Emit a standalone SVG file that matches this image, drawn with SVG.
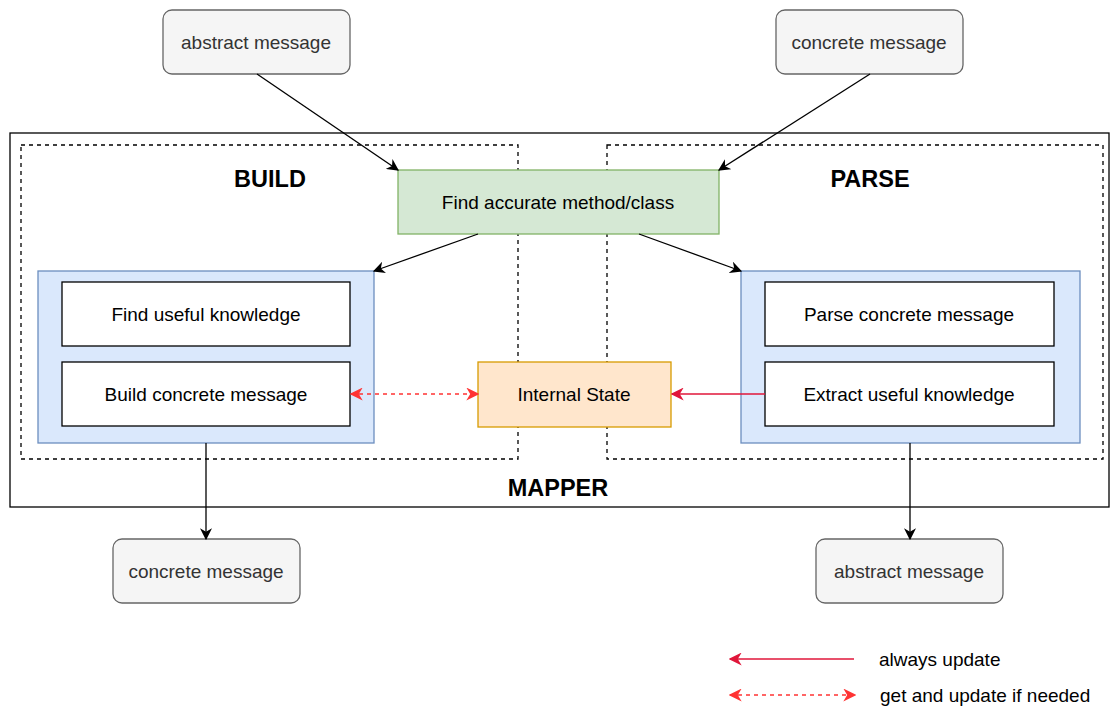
<svg xmlns="http://www.w3.org/2000/svg" width="1110" height="708" viewBox="0 0 1110 708">
<style>
text{font-family:"Liberation Sans",Arial,sans-serif;font-size:19px;text-anchor:middle;dominant-baseline:central;fill:#000}
.gray rect{fill:#f5f5f5;stroke:#666;stroke-width:1.3}
.gray text{fill:#333}
.white rect{fill:#fff;stroke:#000;stroke-width:1.3}
.blue{fill:#dae8fc;stroke:#6c8ebf;stroke-width:1.3}
.dash{fill:none;stroke:#000;stroke-width:1.3;stroke-dasharray:4 4}
.title{font-weight:bold;font-size:23.5px}
.c{fill:none;stroke:#000;stroke-width:1.3}
.red{fill:none;stroke:#e0163a;stroke-width:1.5}
.rdash{fill:none;stroke:#ff3333;stroke-width:1.5;stroke-dasharray:4 4}
</style>
<defs>
<marker id="ab" viewBox="0 0 10 10" refX="9" refY="5" markerWidth="12" markerHeight="12" markerUnits="userSpaceOnUse" orient="auto-start-reverse"><path d="M0,0 L10,5 L0,10 L3,5 Z" fill="#000"/></marker>
<marker id="ar" viewBox="0 0 10 10" refX="9" refY="5" markerWidth="13" markerHeight="13" markerUnits="userSpaceOnUse" orient="auto-start-reverse"><path d="M0,0 L10,5 L0,10 L3,5 Z" fill="#e0163a"/></marker>
<marker id="ad" viewBox="0 0 10 10" refX="9" refY="5" markerWidth="13" markerHeight="13" markerUnits="userSpaceOnUse" orient="auto-start-reverse"><path d="M0,0 L10,5 L0,10 L3,5 Z" fill="#ff3333"/></marker>
</defs>
<g id="mapper"><rect x="10" y="133" width="1099" height="374" fill="#fff" stroke="#000" stroke-width="1.3"/><text class="title" x="558" y="488">MAPPER</text></g>
<g id="build"><rect class="dash" x="21" y="145" width="497" height="314"/><text class="title" x="270" y="179">BUILD</text></g>
<g id="parse"><rect class="dash" x="607" y="145" width="496" height="314"/><text class="title" x="870" y="179">PARSE</text></g>
<g id="find-method"><rect x="398" y="170" width="321" height="64" fill="#d5e8d4" stroke="#82b366" stroke-width="1.3"/><text x="558" y="202">Find accurate method/class</text></g>
<g id="build-group"><rect class="blue" x="38" y="271" width="336" height="172"/></g>
<g id="parse-group"><rect class="blue" x="741" y="271" width="339" height="172"/></g>
<g id="find-knowledge" class="white"><rect x="62" y="282" width="288" height="64"/><text x="206" y="314">Find useful knowledge</text></g>
<g id="build-concrete" class="white"><rect x="62" y="362" width="288" height="64"/><text x="206" y="394">Build concrete message</text></g>
<g id="parse-concrete" class="white"><rect x="765" y="282" width="289" height="64"/><text x="909" y="314">Parse concrete message</text></g>
<g id="extract-knowledge" class="white"><rect x="765" y="362" width="289" height="64"/><text x="909" y="394">Extract useful knowledge</text></g>
<g id="internal-state"><rect x="478" y="362" width="193" height="65" fill="#ffe6cc" stroke="#d79b00" stroke-width="1.3"/><text x="574" y="394">Internal State</text></g>
<g id="abstract-in" class="gray"><rect x="163" y="10" width="187" height="64" rx="9"/><text x="256" y="42">abstract message</text></g>
<g id="concrete-in" class="gray"><rect x="776" y="10" width="187" height="64" rx="9"/><text x="869" y="42">concrete message</text></g>
<g id="concrete-out" class="gray"><rect x="113" y="539" width="187" height="64" rx="9"/><text x="206" y="571">concrete message</text></g>
<g id="abstract-out" class="gray"><rect x="816" y="539" width="187" height="64" rx="9"/><text x="909" y="571">abstract message</text></g>
<g id="connectors">
<line class="c" x1="257" y1="74" x2="398" y2="170" marker-end="url(#ab)"/>
<line class="c" x1="870" y1="74" x2="719" y2="170" marker-end="url(#ab)"/>
<line class="c" x1="478" y1="234" x2="374" y2="271" marker-end="url(#ab)"/>
<line class="c" x1="639" y1="234" x2="741" y2="271" marker-end="url(#ab)"/>
<line class="c" x1="206" y1="443" x2="206" y2="539" marker-end="url(#ab)"/>
<line class="c" x1="910" y1="443" x2="910" y2="539" marker-end="url(#ab)"/>
<line class="rdash" x1="351" y1="394" x2="478" y2="394" marker-start="url(#ad)" marker-end="url(#ad)"/>
<line class="red" x1="765" y1="394" x2="672" y2="394" marker-end="url(#ar)"/>
<line class="red" x1="854" y1="659" x2="730" y2="659" marker-end="url(#ar)"/>
<line class="rdash" x1="730" y1="695" x2="855" y2="695" marker-start="url(#ad)" marker-end="url(#ad)"/>
</g>
<g id="legend">
<text x="879" y="659" style="text-anchor:start">always update</text>
<text x="880" y="695" style="text-anchor:start">get and update if needed</text>
</g>
</svg>
